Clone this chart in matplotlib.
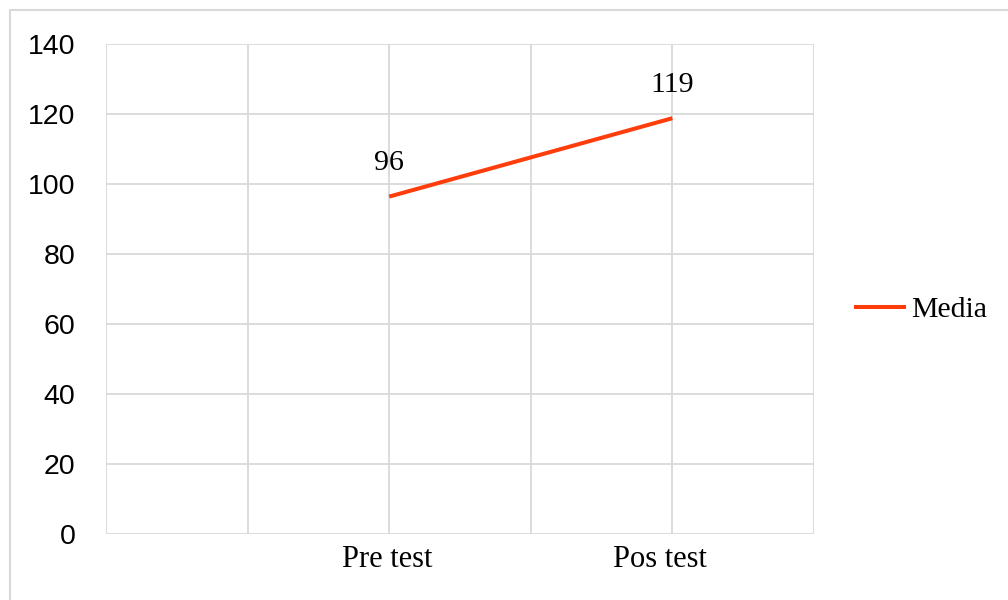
import matplotlib.pyplot as plt
import matplotlib.transforms as mtransforms
from matplotlib.patches import Rectangle

# category slots on the x axis (only two carry data)
CATEGORIES = ["", "", "Pre test", "", "Pos test", ""]
X_POS = [2, 4]
MEDIA = [96.4, 118.8]
LABELS = ["96", "119"]
Y_TICKS = [0, 20, 40, 60, 80, 100, 120, 140]

LINE_COLOR = "#fe3d0a"
GRID_COLOR = "#d9d9d9"
SERIF = "Liberation Serif"
SANS = "Liberation Sans"


def main():
    fig = plt.figure(figsize=(10.08, 6.0), dpi=100)
    ax = fig.add_axes([106 / 1008, 1 - 534 / 600, (814 - 106) / 1008, (534 - 44) / 600])

    ax.plot(X_POS, MEDIA, color=LINE_COLOR, lw=2.9, solid_capstyle="butt", label="Media")
    for x, y, txt in zip(X_POS, MEDIA, LABELS):
        ax.annotate(txt, (x, y), xytext=(0, 19), textcoords="offset points",
                    ha="center", va="baseline", fontsize=21.5, family=SERIF)

    ax.set_xlim(0, 5)
    ax.set_ylim(0, 140)
    ax.set_yticks(Y_TICKS)
    ax.set_xticks([2, 4])
    ax.set_xticklabels([CATEGORIES[2], CATEGORIES[4]], fontsize=22, family=SERIF)
    for lab in ax.get_yticklabels():
        lab.set_fontsize(20.5)
        lab.set_family(SANS)
    ax.tick_params(axis="y", length=0, pad=22)
    ax.tick_params(axis="x", length=0, pad=8)

    # the reference nudges the labels a little to the left
    xlabs = ax.get_xticklabels()
    for lab, dx in zip(xlabs, (-2, -12)):
        lab.set_transform(lab.get_transform() +
                          mtransforms.ScaledTranslation(dx / 100, 0, fig.dpi_scale_trans))

    for v in range(0, 6):
        ax.axvline(v, color=GRID_COLOR, lw=1.3, zorder=0)
    for v in Y_TICKS:
        ax.axhline(v, color=GRID_COLOR, lw=1.3, zorder=0)
    for s in ax.spines.values():
        s.set_visible(False)

    fig.legend(loc="center left", bbox_to_anchor=(842 / 1008, 1 - 310 / 600),
               frameon=False, prop={"family": SERIF, "size": 21.5},
               handlelength=1.75, handletextpad=0.15, borderaxespad=0)

    fig.patches.append(Rectangle((10 / 1008, -0.1), 1.2, 1.1 - 10 / 600,
                                 transform=fig.transFigure, fill=False,
                                 edgecolor=GRID_COLOR, lw=1.5))

    fig.savefig("out.png", dpi=100)


if __name__ == "__main__":
    main()
